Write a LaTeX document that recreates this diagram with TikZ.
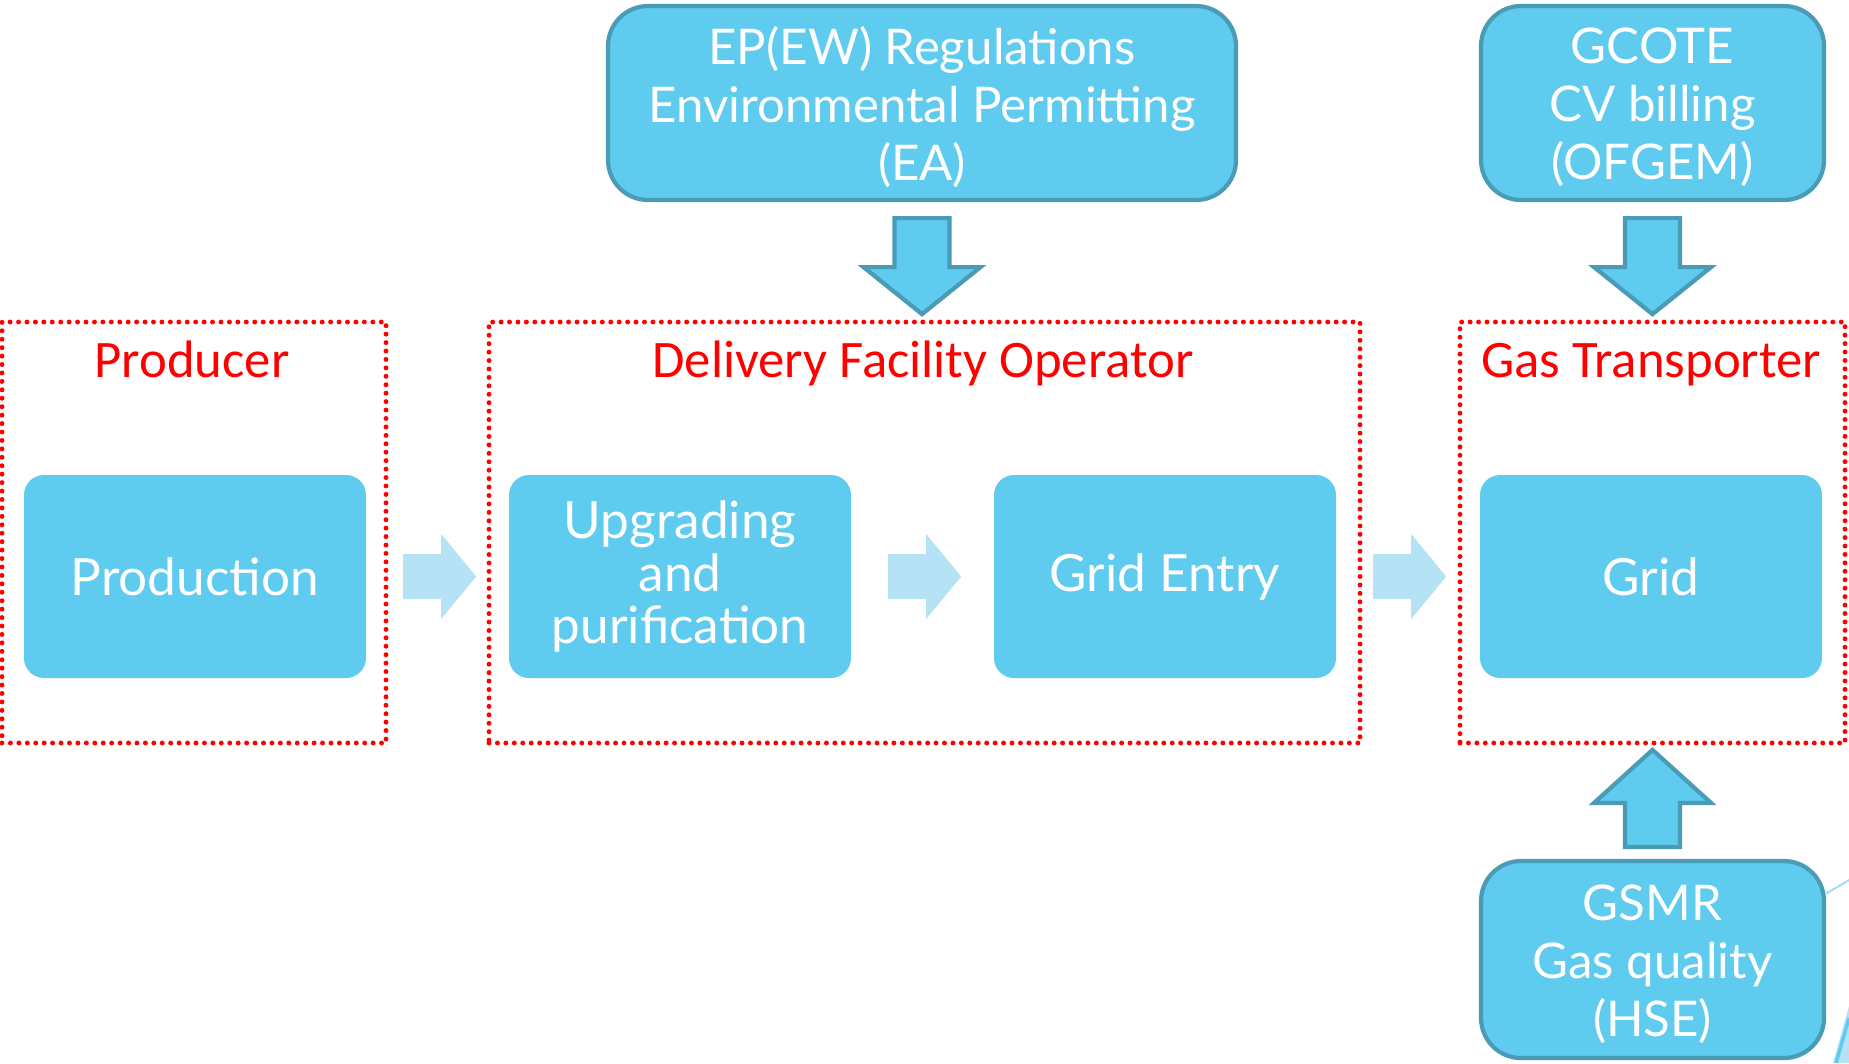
\documentclass[tikz,border=0pt]{standalone}
\usepackage{fontspec}
\setmainfont{Lato}
\newfontfamily\redfont{Carlito}
\usetikzlibrary{calc}

\definecolor{boxblue}{HTML}{5FCBEF}
\definecolor{edgeblue}{HTML}{4A9BB5}
\definecolor{paleblue}{HTML}{B5E3F5}

\begin{document}
\begin{tikzpicture}[x=0.1mm,y=-0.1mm,
    regbox/.style={draw=edgeblue,line width=1.2pt,fill=boxblue,rounded corners=4mm,
        inner sep=0pt},
    regtext/.style={text=white,align=center,inner sep=0pt,font=\fontsize{14}{16.5}\selectfont},
    stagebox/.style={fill=boxblue,rounded corners=2mm,minimum width=34.2mm,minimum height=20.3mm,
        text=white,align=center,inner sep=0pt,font=\fontsize{14.6}{15}\selectfont},
    frame/.style={draw=red,line width=1.4pt,dash pattern=on 0pt off 2.4pt,line cap=round,
        inner sep=0pt,minimum height=42.1mm},
    framelabel/.style={anchor=base,text=red,font=\redfont\fontsize{15}{16}\selectfont},
    blockarrow/.style={draw=edgeblue,line width=1.2pt,fill=boxblue,line join=miter},
    flowarrow/.style={fill=paleblue}]

    \useasboundingbox (0,0) rectangle (1849,1063);

    % regulators
    \node (ep) at (922,103) [regbox,minimum width=62.8mm,minimum height=19.4mm] {};
    \node (eptext) at ($(ep)+(0,4)$) [regtext]
        {EP(EW) Regulations\\Environmental Permitting\\(EA)};
    \node (gcote) at (1652.5,103) [regbox,minimum width=34.3mm,minimum height=19.4mm] {};
    \node (gcotetext) at ($(gcote)+(0,4)$) [regtext]
        {GCOTE\\CV billing\\(OFGEM)};
    \node (gsmr) at (1652.5,959.5) [regbox,minimum width=34.3mm,minimum height=19.7mm] {};
    \node (gsmrtext) at ($(gsmr)+(0,5)$) [regtext]
        {GSMR\\Gas quality\\(HSE)};

    % parties
    \node (prod) at (194,532.5) [frame,minimum width=38.4mm] {};
    \node (dfo) at (924.5,532.5) [frame,minimum width=87.1mm] {};
    \node (gt) at (1652.5,532.5) [frame,minimum width=38.5mm] {};
    \node (prodlab) at ($(prod.north)+(-2,58)$) [framelabel] {Producer};
    \node (dfolab) at ($(dfo.north)+(-1.5,58)$) [framelabel] {Delivery Facility Operator};
    \node (gtlab) at ($(gt.north)+(-1.5,58)$) [framelabel] {Gas Transporter};

    % stages
    \node (a) at (195,576.5) [stagebox] {Production};
    \node (b) at (680,576.5) [stagebox] {Upgrading\\and\\purification};
    \node (c) at (1165,576.5) [stagebox] {Grid Entry};
    \node (d) at (1651,576.5) [stagebox] {Grid};

    \foreach \s in {a,b,c}
        \fill[flowarrow] (\s.east) ++(36.5,-22.5) -- ++(38,0) -- ++(0,-20) -- ++(35,42.5)
            -- ++(-35,42.5) -- ++(0,-20) -- ++(-38,0) -- cycle;

    \draw[blockarrow] (ep.south) ++(-27.5,16) -- ++(55,0) -- ++(0,49) -- ++(31,0)
        -- ++(-58.5,47) -- ++(-58.5,-47) -- ++(31,0) -- cycle;
    \draw[blockarrow] (gcote.south) ++(-27.5,16) -- ++(55,0) -- ++(0,49) -- ++(31,0)
        -- ++(-58.5,47) -- ++(-58.5,-47) -- ++(31,0) -- cycle;
    \draw[blockarrow] (gsmr.north) ++(-27.5,-12) -- ++(55,0) -- ++(0,-44) -- ++(31,0)
        -- ++(-58.5,-53) -- ++(-58.5,53) -- ++(31,0) -- cycle;

    % slide corner
    \draw[paleblue!80!boxblue,line width=0.6pt] (gsmr.east) ++(0,-66) -- ++(24,-14);
    \fill[paleblue] (1833,1063) -- (1849,1006) -- (1849,1063) -- cycle;
    \draw[boxblue,line width=1pt] (1836,1063) -- (1849,1018);
\end{tikzpicture}
\end{document}
